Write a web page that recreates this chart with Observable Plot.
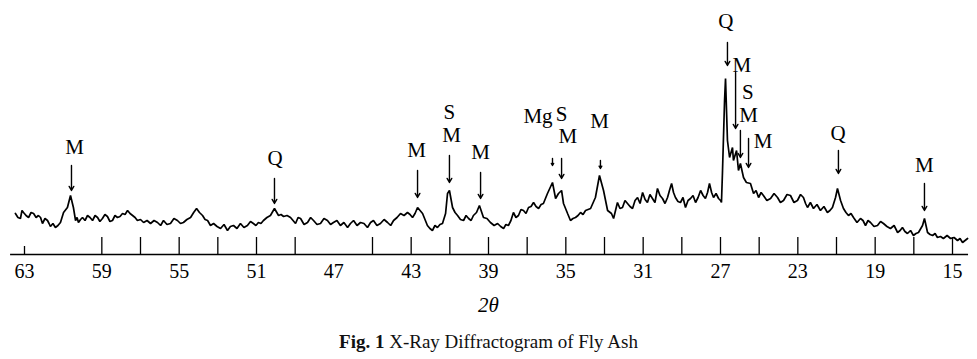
<!DOCTYPE html>
<html><head><meta charset="utf-8">
<script src="https://cdn.jsdelivr.net/npm/d3@7"></script>
<script src="https://cdn.jsdelivr.net/npm/@observablehq/plot@0.6"></script>
<style>
body{margin:0;background:#fff;}
#chart{width:977px;height:325px;}
.caption{width:977px;text-align:center;font-family:"Liberation Serif",serif;font-size:19px;color:#111;height:34px;line-height:34px;}
</style></head><body>
<div id="chart"></div>
<div class="caption"><b>Fig. 1</b> X-Ray Diffractogram of Fly Ash</div>
<script>
// Scan (2θ in degrees, intensity in arbitrary units)
const twoTheta = [
63.47,63.34,63.21,63.13,63.05,62.92,62.79,62.66,62.53,62.40,
62.28,62.17,62.07,61.94,61.81,61.73,61.66,61.53,61.40,61.27,
61.14,61.06,60.98,60.78,60.62,60.47,60.36,60.28,60.21,60.10,
60.00,59.87,59.74,59.61,59.48,59.35,59.22,59.10,58.97,58.84,
58.71,58.58,58.45,58.32,58.19,58.06,57.93,57.80,57.67,57.54,
57.41,57.28,57.16,57.00,56.84,56.66,56.48,56.30,56.12,55.96,
55.81,55.63,55.45,55.27,55.09,54.93,54.78,54.60,54.41,54.25,
54.10,53.95,53.79,53.66,53.53,53.38,53.22,53.04,52.86,52.68,
52.50,52.35,52.19,52.01,51.83,51.65,51.47,51.31,51.16,51.03,
50.90,50.77,50.64,50.46,50.28,50.07,49.86,49.73,49.60,49.42,
49.24,49.11,48.98,48.85,48.72,48.54,48.36,48.20,48.05,47.87,
47.69,47.51,47.33,47.17,47.02,46.84,46.66,46.48,46.29,46.14,
45.98,45.80,45.62,45.44,45.26,45.10,44.95,44.77,44.59,44.40,
44.22,44.06,43.91,43.73,43.55,43.37,43.19,43.06,42.93,42.80,
42.67,42.41,42.16,42.03,41.90,41.77,41.64,41.51,41.38,41.22,
41.12,41.02,40.86,40.73,40.60,40.45,40.29,40.16,40.03,39.90,
39.78,39.62,39.47,39.26,39.08,38.90,38.71,38.53,38.37,38.22,
38.10,37.97,37.84,37.71,37.58,37.45,37.32,37.19,37.06,36.93,
36.80,36.67,36.54,36.41,36.28,36.16,35.95,35.69,35.53,35.38,
35.22,35.12,34.91,34.76,34.63,34.50,34.37,34.24,34.11,33.98,
33.85,33.72,33.47,33.26,33.05,32.84,32.64,32.53,32.33,32.20,
32.07,31.94,31.81,31.68,31.55,31.42,31.29,31.16,31.03,30.90,
30.78,30.65,30.52,30.39,30.26,30.13,30.00,29.87,29.74,29.64,
29.53,29.43,29.33,29.20,29.07,28.94,28.81,28.68,28.55,28.42,
28.29,28.16,28.03,27.90,27.78,27.67,27.57,27.46,27.36,27.23,
27.10,27.00,26.95,26.90,26.79,26.74,26.64,26.53,26.38,26.33,
26.17,26.07,25.97,25.81,25.66,25.45,25.37,25.29,25.16,25.03,
24.90,24.78,24.60,24.41,24.23,24.05,23.90,23.74,23.56,23.38,
23.20,23.02,22.86,22.71,22.60,22.50,22.35,22.19,22.01,21.83,
21.65,21.47,21.34,21.21,21.05,20.95,20.79,20.64,20.51,20.38,
20.25,20.12,19.94,19.76,19.63,19.50,19.37,19.24,19.06,18.88,
18.72,18.57,18.39,18.21,18.02,17.84,17.71,17.59,17.46,17.33,
17.17,17.02,16.89,16.76,16.55,16.45,16.29,16.16,16.03,15.90,
15.78,15.62,15.47,15.28,15.10,14.92,14.74,14.61,14.48,14.22];
const intensity = [
37,33,32,40,38,35,33,38,37,33,
35,33,27,32,30,27,24,27,23,25,
28,33,38,43,55,43,30,33,28,31,
33,30,35,33,30,35,33,29,32,36,
34,29,30,35,33,34,37,36,40,37,
35,33,30,31,28,30,27,30,28,25,
30,26,27,32,30,27,28,31,33,38,
42,38,35,31,30,25,27,24,22,26,
20,24,25,22,27,23,25,29,27,25,
28,27,30,33,35,42,35,36,34,35,
33,30,27,33,32,26,28,33,30,26,
27,32,30,26,28,30,25,28,23,27,
30,25,28,27,23,28,30,25,27,31,
28,25,30,33,37,35,38,36,33,37,
43,37,25,22,20,25,23,26,27,37,
57,60,43,38,35,31,30,35,32,30,
35,38,45,33,32,28,25,27,24,22,
26,25,30,38,33,35,41,40,37,43,
44,48,44,42,46,47,57,68,52,57,
60,47,37,30,32,33,35,38,36,40,
41,42,53,75,60,40,37,32,48,42,
43,50,47,44,42,50,53,47,58,51,
48,56,52,48,62,55,52,47,53,60,
67,58,53,49,48,53,43,50,52,55,
48,53,60,55,52,58,67,58,53,57,
52,50,48,77,150,172,110,93,103,90,
100,80,87,73,68,67,62,57,60,53,
58,55,50,52,57,53,48,50,56,55,
48,50,56,53,47,43,48,42,46,40,
44,38,40,43,53,62,50,42,38,35,
37,33,28,32,30,25,30,28,24,25,
29,27,24,22,25,18,20,23,19,17,
20,15,17,18,25,32,18,16,15,17,
13,14,12,15,12,13,10,12,8,12];

// Axis
const tickPositions = [63,59,57,55,53,51,49,45,43,41,39,37,35,33,31,29,27,25,23,21,19,17,15];
const tickTop = [4,13,13,13,13,13,13,13,13,13,13,13,13,13,13,13,13,13,13,13,13,13,13];
const tickLabels = [63,59,55,51,47,43,39,35,31,27,23,19,15];
const axisTitle = "2θ";

// Peak annotations
const peakLabels = ["M","Q","M","S","M","M","Mg","S","M","M","Q","M","S","M","M","Q","M"];
const labelTheta = [60.41,50.04,42.72,41.02,40.91,39.41,36.44,35.22,34.89,33.26,26.72,25.89,25.58,25.55,24.80,20.92,16.45];
const labelI = [103,92,100,138,115.5,98,134,136.5,114,129.5,229,185.5,158.5,135,109,117,85];

// Peak marker arrows
const markerTheta = [60.57,50.07,42.67,41.02,39.41,35.69,35.22,33.21,26.64,26.22,25.97,25.55,20.90,16.45];
const markerTop = [85,72,80,95,78,92,92,90,208,178,120,112,100,67];
const markerBottom = [60,47,53,68,52,85,72,82,185,122,93,83,77,40];

const scan = twoTheta.map((t, i) => ({t, v: intensity[i]}));
const ticks = tickPositions.map((t, i) => ({t, top: tickTop[i]}));
const labels = peakLabels.map((s, i) => ({s, t: labelTheta[i], v: labelI[i]}));
const markers = markerTheta.map((t, i) => ({t, top: markerTop[i], bottom: markerBottom[i]}));

const serif = '"Liberation Serif", "Times New Roman", serif';

const chart = Plot.plot({
  width: 977,
  height: 325,
  marginLeft: 24,
  marginRight: 25,
  marginTop: 0,
  marginBottom: 71,
  x: {domain: [63, 15], axis: null},
  y: {domain: [-4, 250], axis: null},
  style: {fontFamily: serif, background: "#fff", color: "#000"},
  marks: [
    Plot.ruleY([-4], {x1: 63.72, x2: 14.17, stroke: "#000", strokeWidth: 1.6}),
    Plot.ruleX(ticks, {x: "t", y1: -4, y2: "top", stroke: "#000", strokeWidth: 1.3}),
    Plot.text(tickLabels, {x: d => d, y: () => -21.5, text: d => String(d), fontSize: 20, fontFamily: serif, fill: "#000", lineAnchor: "middle"}),
    Plot.text([axisTitle], {x: () => 39, y: () => -55, text: d => d, fontSize: 21, fontStyle: "italic", fontFamily: serif, fill: "#000"}),
    Plot.line(scan, {x: "t", y: "v", stroke: "#000", strokeWidth: 1.7, strokeLinejoin: "miter"}),
    Plot.arrow(markers, {x1: "t", y1: "top", x2: "t", y2: "bottom", stroke: "#000", strokeWidth: 1.4, headLength: 5}),
    Plot.text(labels, {x: "t", y: "v", text: "s", fontSize: 21, fontFamily: serif, fill: "#000", lineAnchor: "middle"})
  ]
});
document.getElementById("chart").appendChild(chart);
</script>
</body></html>
